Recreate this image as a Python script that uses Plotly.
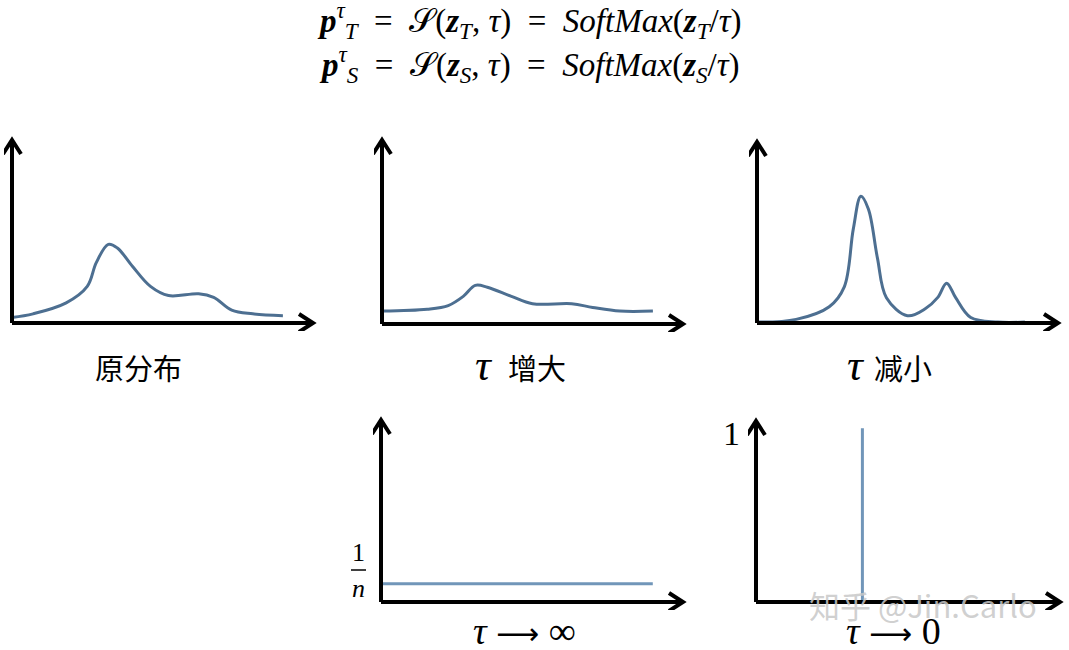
import plotly.graph_objects as go

W, H = 1069, 650

# ---- data (normalized: x in fraction of x-axis length, y in fraction of y-axis height) ----
orig_x = [0.00, 0.07, 0.18, 0.25, 0.28, 0.32, 0.35, 0.40, 0.46, 0.52, 0.62, 0.67, 0.73, 0.80, 0.90]
orig_y = [0.03, 0.05, 0.11, 0.20, 0.33, 0.43, 0.41, 0.31, 0.20, 0.15, 0.16, 0.14, 0.07, 0.05, 0.04]

hot_x = [0.00, 0.15, 0.22, 0.27, 0.31, 0.35, 0.43, 0.50, 0.63, 0.70, 0.79, 0.90]
hot_y = [0.07, 0.08, 0.10, 0.15, 0.21, 0.20, 0.15, 0.11, 0.11, 0.09, 0.07, 0.07]

cold_x = [0.00, 0.13, 0.24, 0.29, 0.32, 0.345, 0.37, 0.40, 0.43, 0.50, 0.56, 0.60, 0.63, 0.66, 0.71, 0.80, 0.89]
cold_y = [0.005, 0.02, 0.09, 0.20, 0.52, 0.70, 0.63, 0.36, 0.14, 0.04, 0.08, 0.14, 0.22, 0.14, 0.03, 0.005, 0.005]

inf_x = [0.00, 0.90]
inf_y = [0.10, 0.10]

zero_x = [0.35, 0.35]
zero_y = [0.00, 0.96]

panel_labels = ["原分布", "增大", "减小"]
formula_lines = [
    "<b><i>p</i></b><sup><i>τ</i></sup><sub><i>T</i></sub>  =  𝒮(<b><i>z</i></b><sub><i>T</i></sub>, <i>τ</i>)  =  <i>SoftMax</i>(<b><i>z</i></b><sub><i>T</i></sub>/<i>τ</i>)",
    "<b><i>p</i></b><sup><i>τ</i></sup><sub><i>S</i></sub>  =  𝒮(<b><i>z</i></b><sub><i>S</i></sub>, <i>τ</i>)  =  <i>SoftMax</i>(<b><i>z</i></b><sub><i>S</i></sub>/<i>τ</i>)",
]

# ---- layout geometry (pixels: origin x, origin y, arrow tip x, arrow tip y) ----
boxes = [
    (12, 323, 313, 140),
    (382, 324, 683, 140),
    (757, 323, 1058, 142),
    (381, 602, 683, 420),
    (756, 602, 1060, 421),
]
PAD = 8

curve_col = "#4d6f91"
flat_col = "#7196b9"

fig = go.Figure()
layout_axes = {}
shapes = []
for i, (x0, y0, x1, y1) in enumerate(boxes):
    n = "" if i == 0 else str(i + 1)
    wx = x1 - x0
    hy = y0 - y1
    pl = min(PAD, x0)
    pr = min(PAD, W - x1)
    layout_axes["xaxis" + n] = dict(
        domain=[(x0 - pl) / W, (x1 + pr) / W],
        range=[-pl / wx, 1 + pr / wx],
        visible=False, anchor="y" + n, fixedrange=True,
    )
    layout_axes["yaxis" + n] = dict(
        domain=[1 - (y0 + PAD) / H, 1 - (y1 - PAD) / H],
        range=[-PAD / hy, 1 + PAD / hy],
        visible=False, anchor="x" + n, fixedrange=True,
    )
    xr = "x" + n
    yr = "y" + n
    lw = 4
    shapes.append(dict(type="line", xref=xr, yref=yr, x0=0, y0=0, x1=1, y1=0,
                       line=dict(color="black", width=lw), layer="above"))
    shapes.append(dict(type="line", xref=xr, yref=yr, x0=0, y0=0, x1=0, y1=1,
                       line=dict(color="black", width=lw), layer="above"))
    shapes.append(dict(type="path", xref=xr, yref=yr, xsizemode="pixel", ysizemode="pixel",
                       xanchor=1, yanchor=0, path="M -14 9 L 0 0 L -14 -9",
                       line=dict(color="black", width=lw), layer="above"))
    shapes.append(dict(type="path", xref=xr, yref=yr, xsizemode="pixel", ysizemode="pixel",
                       xanchor=0, yanchor=1, path="M -9 -14 L 0 0 L 9 -14",
                       line=dict(color="black", width=lw), layer="above"))

series = [
    (orig_x, orig_y, curve_col, 3, "spline"),
    (hot_x, hot_y, curve_col, 3, "spline"),
    (cold_x, cold_y, curve_col, 3, "spline"),
    (inf_x, inf_y, flat_col, 3, "linear"),
    (zero_x, zero_y, flat_col, 3, "linear"),
]
for i, (xs, ys, col, w, shp) in enumerate(series):
    n = "" if i == 0 else str(i + 1)
    line = dict(color=col, width=w, shape=shp)
    if shp == "spline":
        line["smoothing"] = 1.0
    fig.add_trace(go.Scatter(x=xs, y=ys, mode="lines", line=line,
                             xaxis="x" + n, yaxis="y" + n, hoverinfo="skip",
                             showlegend=False))

serif = "Liberation Serif, Times New Roman, serif"
cjk = "Noto Sans CJK SC, sans-serif"
arrow = "<span style='font-family:DejaVu Sans;font-size:30px'>⟶</span>"

ann = []
def txt(x, y, text, size, family=serif, color="black", xanchor="center"):
    ann.append(dict(x=x / W, y=1 - y / H, xref="paper", yref="paper", text=text,
                    showarrow=False, font=dict(size=size, family=family, color=color),
                    xanchor=xanchor, yanchor="middle"))

# formula
txt(529, 21, formula_lines[0], 33)
txt(529, 64, formula_lines[1], 33)

# panel labels
txt(138, 367, panel_labels[0], 29, cjk)
txt(484, 366, "<i>τ</i>", 44)
txt(537, 367, panel_labels[1], 29, cjk)
txt(856, 366, "<i>τ</i>", 44)
txt(903, 367, panel_labels[2], 29, cjk)
txt(524, 631, "<i>τ</i> " + arrow + " ∞", 38)
txt(893, 631, "<i>τ</i> " + arrow + " 0", 38)

# y-axis value labels
txt(358, 552, "1", 26)
shapes.append(dict(type="line", xref="paper", yref="paper", x0=351 / W, x1=366 / W,
                   y0=1 - 570 / H, y1=1 - 570 / H, line=dict(color="black", width=1.5)))
txt(358, 588, "<i>n</i>", 26)
txt(731, 433, "1", 34)

# watermark
txt(923, 604, "知乎 @Jin.Carlo", 31, "Noto Sans CJK SC, sans-serif", "rgba(200,200,200,0.85)")

fig.update_layout(
    width=W, height=H, margin=dict(l=0, r=0, t=0, b=0),
    paper_bgcolor="white", plot_bgcolor="rgba(0,0,0,0)",
    showlegend=False, shapes=shapes, annotations=ann, **layout_axes,
)

fig.write_html("out.html", config={"displayModeBar": False},
               post_script="document.body.style.margin='0px';document.body.style.padding='0px';")
